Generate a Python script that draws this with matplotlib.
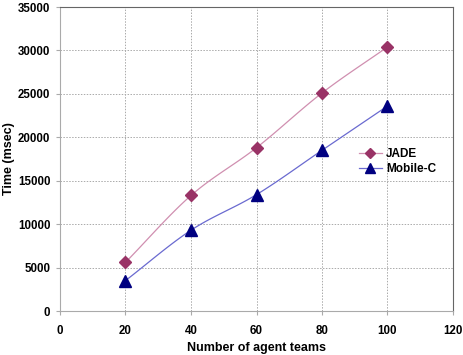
import numpy as np
import matplotlib
matplotlib.use("Agg")
import matplotlib.pyplot as plt
from matplotlib.lines import Line2D

teams = [20, 40, 60, 80, 100]
jade = [5600, 13300, 18800, 25100, 30400]
mobilec = [3500, 9300, 13400, 18500, 23600]

plt.rcParams['font.family'] = ['Liberation Sans', 'DejaVu Sans']

def smooth(x, y, n=30):
    x = np.asarray(x, float); y = np.asarray(y, float)
    px = np.concatenate([[2*x[0]-x[1]], x, [2*x[-1]-x[-2]]])
    py = np.concatenate([[2*y[0]-y[1]], y, [2*y[-1]-y[-2]]])
    xs, ys = [], []
    t = np.linspace(0, 1, n)
    for i in range(1, len(px)-2):
        p0, p1, p2, p3 = [np.array([px[j], py[j]]) for j in (i-1, i, i+1, i+2)]
        c1 = p1 + (p2 - p0) / 6.0
        c2 = p2 - (p3 - p1) / 6.0
        pts = ((1-t)**3)[:, None]*p1 + (3*(1-t)**2*t)[:, None]*c1 + (3*(1-t)*t**2)[:, None]*c2 + (t**3)[:, None]*p2
        xs.extend(pts[:, 0]); ys.extend(pts[:, 1])
    return xs, ys

fig = plt.figure(figsize=(4.64, 3.55), dpi=100)
ax = fig.add_axes([60/464, 44/355, 393/464, 304/355])

sx, sy = smooth(teams, jade)
ax.plot(sx, sy, color='#d08fb0', lw=0.9, zorder=2)
sx, sy = smooth(teams, mobilec)
ax.plot(sx, sy, color='#6a6ad0', lw=0.9, zorder=2)
ax.plot(teams, jade, linestyle='none', marker='D', ms=6, color='#993366', zorder=3)
ax.plot(teams, mobilec, linestyle='none', marker='^', ms=8, color='#000080', zorder=3)

h1 = Line2D([], [], color='#d08fb0', lw=0.9, marker='D', ms=5, mfc='#993366', mec='#993366')
h2 = Line2D([], [], color='#6a6ad0', lw=0.9, marker='^', ms=7, mfc='#000080', mec='#000080')
ax.legend([h1, h2], ['JADE', 'Mobile-C'], loc='upper left', bbox_to_anchor=(0.745, 0.555),
          frameon=False, prop={'weight': 'bold', 'size': 8.5}, handlelength=2.0,
          handletextpad=0.3, labelspacing=0.25, borderpad=0)

ax.set_xlim(0, 120)
ax.set_ylim(0, 35000)
ax.set_xticks(range(0, 121, 20))
ax.set_yticks(range(0, 35001, 5000))
ax.grid(True, color='#aaaaaa', linestyle=(0, (1.5, 1.5)), lw=0.7)
ax.set_axisbelow(True)
for s in ['top', 'right']:
    ax.spines[s].set_color('#666666')
for s in ['left', 'bottom']:
    ax.spines[s].set_color('#aaaaaa')
ax.tick_params(axis='both', length=3, color='#aaaaaa', labelsize=8.3)
ax.tick_params(axis='y', pad=4)
ax.tick_params(axis='x', pad=7)
for lab in ax.get_xticklabels() + ax.get_yticklabels():
    lab.set_fontweight('bold')
ax.set_xlabel('Number of agent teams', fontsize=9, fontweight='bold', labelpad=4)
ax.set_ylabel('Time (msec)', fontsize=9, fontweight='bold', labelpad=2)

fig.savefig('out.png', dpi=100)
